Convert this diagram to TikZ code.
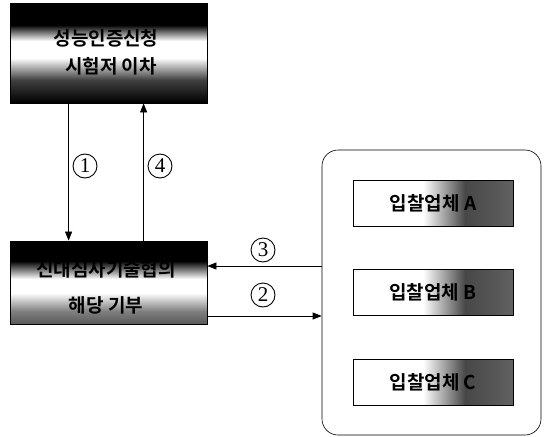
\documentclass[tikz,border=0pt]{standalone}
\usepackage{fontspec}
\setmainfont{Noto Sans CJK KR}[BoldFont={* Bold}]
\newfontfamily\numfont{Liberation Serif}
\usetikzlibrary{calc,arrows.meta}
\begin{document}
\begin{tikzpicture}[x=1pt,y=-1pt,
  darkbox/.style={draw=black, line width=0.8pt, inner sep=0pt},
  topshade/.style={darkbox, path picture={
    \fill[black] (path picture bounding box.north west) rectangle ($(path picture bounding box.north east)+(0,22)$);
    \shade[top color=black, bottom color=white] ($(path picture bounding box.north west)+(0,22)$) rectangle ($(path picture bounding box.north east)+(0,38)$);
    \fill[white] ($(path picture bounding box.north west)+(0,38)$) rectangle ($(path picture bounding box.north east)+(0,55)$);
    \shade[top color=white, bottom color=black!75] ($(path picture bounding box.north west)+(0,55)$) rectangle ($(path picture bounding box.north east)+(0,77)$);
    \shade[top color=black!75, bottom color=black] ($(path picture bounding box.north west)+(0,77)$) rectangle (path picture bounding box.south east);
  }},
  midshade/.style={darkbox, path picture={
    \fill[black] (path picture bounding box.north west) rectangle ($(path picture bounding box.north east)+(0,20)$);
    \shade[top color=black, bottom color=white] ($(path picture bounding box.north west)+(0,20)$) rectangle ($(path picture bounding box.north east)+(0,38)$);
    \fill[white] ($(path picture bounding box.north west)+(0,38)$) rectangle ($(path picture bounding box.north east)+(0,52)$);
    \shade[top color=white, bottom color=black!50] ($(path picture bounding box.north west)+(0,52)$) rectangle ($(path picture bounding box.north east)+(0,70)$);
    \shade[top color=black!50, bottom color=black!65] ($(path picture bounding box.north west)+(0,70)$) rectangle (path picture bounding box.south east);
  }},
  firm/.style={draw=black, line width=0.6pt, minimum width=160pt, minimum height=46pt, inner sep=0pt,
    font=\fontsize{19}{22}\selectfont\bfseries, path picture={
    \fill[white] (path picture bounding box.south west) rectangle ($(path picture bounding box.north west)+(70,0)$);
    \shade[left color=white, right color=black!72] ($(path picture bounding box.south west)+(70,0)$) rectangle ($(path picture bounding box.north west)+(112,0)$);
    \shade[left color=black!72, right color=black!62] ($(path picture bounding box.south west)+(112,0)$) rectangle (path picture bounding box.north east);
  }},
  boxtext/.style={font=\fontsize{19}{22}\selectfont\bfseries, inner sep=0pt},
  num/.style={circle, draw=black, line width=0.9pt, minimum size=24pt, inner sep=0pt,
    font=\numfont\fontsize{21}{22}\selectfont},
  arr/.style={line width=0.7pt, -{Triangle[length=9pt,width=7pt]}}
]
\useasboundingbox[fill=white] (0,0) rectangle (545,436);

% left column boxes
\node[topshade, minimum width=197pt, minimum height=100pt] (top) at (108.5,53) {};
\node[boxtext] (topA) at (106,38) {성능인증신청};
\node[boxtext] (topB) at (111,66) {시험저 이차};

\node[midshade, minimum width=197pt, minimum height=83pt] (mid) at (108.5,282.5) {};
\node[boxtext] (midA) at (106,269) {신대심사기술협의};
\node[boxtext] (midB) at (106,305) {해당 기부};

% right group
\node[draw=black, line width=0.6pt, rounded corners=16pt, minimum width=219pt, minimum height=285pt] (big) at (431.5,292.5) {};
\node[firm] (fa) at (433,203.5) {입찰업체 A};
\node[firm] (fb) at (433,292.5) {입찰업체 B};
\node[firm] (fc) at (433,382) {입찰업체 C};

% connectors
\draw[arr] ([xshift=59pt]top.south west) -- ([xshift=59pt]mid.north west);
\draw[arr] ([xshift=134pt]mid.north west) -- ([xshift=134pt]top.south west);
\coordinate (y3) at (0,266);
\coordinate (y2) at (0,316);
\draw[arr] (big.west |- y3) -- (mid.east |- y3);
\draw[arr] (mid.east |- y2) -- (big.west |- y2);

% labels
\node[num] (n1) at (85,166) {1};
\node[num] (n4) at (160,166) {4};
\node[num] (n3) at (263,250) {3};
\node[num] (n2) at (263,295) {2};
\end{tikzpicture}
\end{document}
